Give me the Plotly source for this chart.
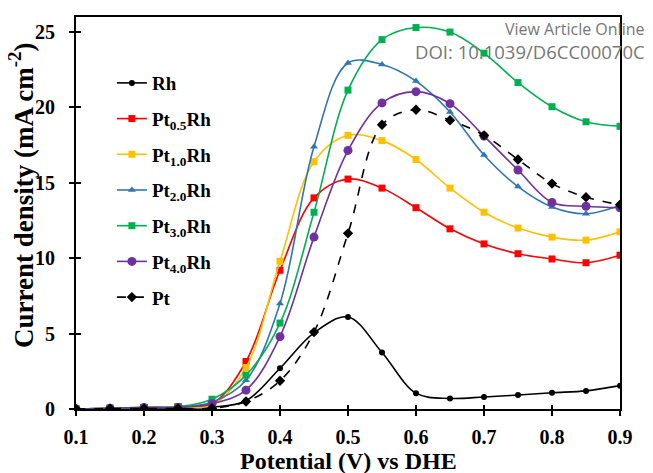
import plotly.graph_objects as go

potential = [0.1, 0.15, 0.2, 0.25, 0.3, 0.35, 0.4, 0.45, 0.5, 0.55, 0.6, 0.65, 0.7, 0.75, 0.8, 0.85, 0.9]

rh      = [0, 0.02, 0.05, 0.05, 0.12, 0.55, 2.7, 5.05, 6.1, 3.75, 1.05, 0.7, 0.8, 0.93, 1.08, 1.2, 1.55]
pt05rh  = [0, 0.05, 0.1, 0.15, 0.35, 3.15, 9.2, 14.0, 15.25, 14.65, 13.35, 11.95, 10.95, 10.3, 9.95, 9.7, 10.2]
pt10rh  = [0, 0.05, 0.1, 0.15, 0.25, 2.75, 9.8, 16.4, 18.15, 17.8, 16.55, 14.65, 13.05, 12.0, 11.4, 11.2, 11.75]
pt20rh  = [0, 0.05, 0.1, 0.15, 0.45, 1.9, 7.0, 17.4, 22.95, 22.85, 21.75, 19.7, 16.85, 14.75, 13.4, 12.95, 13.5]
pt30rh  = [0, 0.05, 0.1, 0.15, 0.65, 2.25, 5.7, 13.05, 21.15, 24.5, 25.3, 25.0, 23.6, 21.65, 20.05, 19.05, 18.75]
pt40rh  = [0, 0.05, 0.1, 0.1, 0.35, 1.25, 4.8, 11.4, 17.15, 20.3, 21.05, 20.25, 18.1, 15.85, 13.7, 13.45, 13.35]
pt      = [0, 0.02, 0.03, 0.03, 0.05, 0.5, 1.87, 5.1, 11.65, 18.85, 19.85, 19.15, 18.15, 16.55, 14.95, 14.05, 13.55]

x_ticks = [0.1, 0.2, 0.3, 0.4, 0.5, 0.6, 0.7, 0.8, 0.9]
y_ticks = [0, 5, 10, 15, 20, 25]

x_title = "<b>Potential (V) vs DHE</b>"
y_title = "<b>Current density (mA cm<sup>-2</sup>)</b>"

series = [
    ("Rh", rh, "#000000", "circle", 6, "solid"),
    ("Pt<sub>0.5</sub>Rh", pt05rh, "#FF0000", "square", 7, "solid"),
    ("Pt<sub>1.0</sub>Rh", pt10rh, "#FFC000", "square", 7, "solid"),
    ("Pt<sub>2.0</sub>Rh", pt20rh, "#2E75B6", "triangle-up", 7, "solid"),
    ("Pt<sub>3.0</sub>Rh", pt30rh, "#00B050", "square", 7, "solid"),
    ("Pt<sub>4.0</sub>Rh", pt40rh, "#7030A0", "circle", 9, "solid"),
    ("Pt", pt, "#000000", "diamond", 8, "dash"),
]

fig = go.Figure()
for i, (name, vals, color, sym, size, dash) in enumerate(series):
    fig.add_trace(go.Scatter(
        x=potential, y=vals, name=name, mode="lines+markers",
        line=dict(color=color, width=1.6, shape="spline", smoothing=1.0, dash=dash),
        marker=dict(symbol=sym, size=size, color=color),
        legendgroup=f"g{i}",
    ))

# overlay axes to draw inward tick halves
fig.add_trace(go.Scatter(x=[], y=[], xaxis="x2", yaxis="y2", showlegend=False))

serif = "Liberation Serif"
fig.update_layout(
    width=653, height=473,
    margin=dict(l=68, r=41, t=9, b=72, autoexpand=False),
    paper_bgcolor="white", plot_bgcolor="white",
    font=dict(family=serif, color="black"),
    xaxis=dict(range=[0.1, 0.9], tickvals=x_ticks, ticktext=[f"{v:.1f}" for v in x_ticks],
               ticks="outside", ticklen=5, tickwidth=1.5, tickcolor="black",
               showline=True, linecolor="black", linewidth=2, mirror=True,
               showgrid=False, zeroline=False, automargin=False, ticklabelstandoff=4,
               tickfont=dict(family=serif, size=20, color="black", weight="bold")),
    yaxis=dict(range=[0, 26], tickvals=y_ticks,
               ticks="outside", ticklen=5, tickwidth=1.5, tickcolor="black",
               showline=True, linecolor="black", linewidth=2, mirror=True,
               showgrid=False, zeroline=False, automargin=False, ticklabelstandoff=10,
               tickfont=dict(family=serif, size=20, color="black", weight="bold")),
    xaxis2=dict(range=[0.1, 0.9], tickvals=x_ticks, overlaying="x", anchor="y2",
                ticks="inside", ticklen=4, tickwidth=1.5, tickcolor="black",
                showticklabels=False, showgrid=False, zeroline=False, showline=False),
    yaxis2=dict(range=[0, 26], tickvals=y_ticks, overlaying="y", anchor="x2",
                ticks="inside", ticklen=5, tickwidth=1.5, tickcolor="black",
                showticklabels=False, showgrid=False, zeroline=False, showline=False),
    legend=dict(x=0.066, y=0.88, xanchor="left", yanchor="top",
                bgcolor="rgba(0,0,0,0)", traceorder="grouped", tracegroupgap=8,
                font=dict(family=serif, size=19, color="black", weight="bold"),
                itemwidth=30),
    showlegend=True,
)

# axis titles
fig.add_annotation(text=x_title, xref="paper", yref="paper", x=0.5, y=-0.132,
                   xanchor="center", yanchor="middle", showarrow=False,
                   font=dict(family=serif, size=24, color="black"))
fig.add_annotation(text=y_title, xref="paper", yref="paper", x=-0.1, y=0.545,
                   xanchor="center", yanchor="middle", showarrow=False, textangle=-90,
                   font=dict(family=serif, size=27, color="black"))

# watermark
fig.add_annotation(text="View Article Online", xref="paper", yref="paper",
                   x=1.05, y=0.97, xanchor="right", yanchor="middle", showarrow=False,
                   font=dict(family="Open Sans", size=16, color="#777777"))
fig.add_annotation(text="DOI: 10.1039/D6CC00070C", xref="paper", yref="paper",
                   x=1.05, y=0.912, xanchor="right", yanchor="middle", showarrow=False,
                   font=dict(family="Open Sans", size=18.5, color="#777777"))

fig.write_html("out.html")
